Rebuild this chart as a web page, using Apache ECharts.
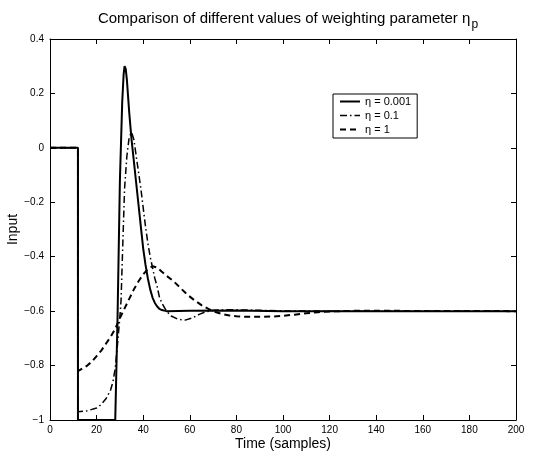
<!DOCTYPE html>
<html>
<head>
<meta charset="utf-8">
<script src="https://cdn.jsdelivr.net/npm/echarts@6/dist/echarts.min.js"></script>
<style>
  html, body { margin: 0; padding: 0; background: #fff; }
  #chart { width: 543px; height: 452px; }
</style>
</head>
<body>
<div id="chart"></div>
<script>
// eta = 0.001 (solid)
const tSolid = [0, 12, 12, 28, 29, 30, 31, 31.6, 32, 32.5, 33, 34, 35, 36, 37, 38, 39, 40, 41, 42, 43, 44, 45, 46, 47, 48, 50, 60, 80, 100, 200]
const ySolid = [0, 0, -1, -1, -0.62, -0.12, 0.17, 0.27, 0.30, 0.29, 0.25, 0.13, 0.03, -0.05, -0.13, -0.21, -0.29, -0.37, -0.43, -0.48, -0.52, -0.55, -0.57, -0.583, -0.592, -0.596, -0.6, -0.599, -0.598, -0.6, -0.6]

// eta = 0.1 (dash-dot)
const tDashDot = [0, 12, 12, 16, 20, 22, 24, 26, 27, 28, 29, 30, 30.5, 31, 32, 33, 34, 35, 35.5, 36, 37, 38, 39, 40, 41, 42, 43, 44, 45, 46, 47, 48, 49, 50, 52, 55, 58, 61, 64, 67, 70, 75, 80, 90, 100, 120, 200]
const yDashDot = [0, 0, -0.97, -0.966, -0.956, -0.943, -0.922, -0.89, -0.86, -0.81, -0.72, -0.62, -0.56, -0.42, -0.15, -0.03, 0.04, 0.057, 0.05, 0.03, -0.03, -0.09, -0.15, -0.22, -0.29, -0.35, -0.4, -0.44, -0.48, -0.51, -0.55, -0.57, -0.585, -0.6, -0.618, -0.63, -0.633, -0.625, -0.612, -0.602, -0.597, -0.595, -0.595, -0.597, -0.599, -0.6, -0.6]

// eta = 1 (dashed)
const tDashed = [0, 12, 12, 14, 16, 18, 20, 22, 24, 26, 28, 30, 32, 34, 36, 38, 40, 42, 44, 46, 48, 50, 53, 56, 59, 62, 65, 68, 71, 74, 77, 80, 85, 90, 95, 100, 105, 110, 115, 120, 130, 150, 200]
const yDashed = [0, 0, -0.82, -0.81, -0.8, -0.785, -0.765, -0.745, -0.72, -0.695, -0.665, -0.625, -0.59, -0.555, -0.52, -0.49, -0.465, -0.445, -0.435, -0.44, -0.455, -0.47, -0.49, -0.515, -0.54, -0.56, -0.578, -0.592, -0.603, -0.611, -0.616, -0.619, -0.621, -0.621, -0.62, -0.617, -0.613, -0.608, -0.604, -0.601, -0.599, -0.599, -0.6]

const seriesNames = ['η = 0.001', 'η = 0.1', 'η = 1']
const xTicks = { min: 0, max: 200, interval: 20 }
const yTicks = { min: -1, max: 0.4, interval: 0.2 }

const zip = (xs, ys) => xs.map((x, i) => [x, ys[i]])

const font = 'Liberation Sans, Arial, Helvetica, sans-serif'
const black = '#000'

const styles = [
    { color: black, width: 2, type: 'solid' },
    { color: black, width: 1.5, type: [7, 3, 1.5, 3] },
    { color: black, width: 2, type: [6, 4] }
]

const boxAxis = (extra) => Object.assign({
    type: 'value',
    axisLine: { show: true, onZero: false, lineStyle: { color: black, width: 1 } },
    axisTick: { show: true, inside: true, length: 5, lineStyle: { color: black } },
    splitLine: { show: false },
    axisLabel: { show: false },
}, extra)

const myChart = echarts.init(document.querySelector('#chart'), null, { renderer: 'canvas' })
myChart.setOption({
    animation: false,
    backgroundColor: '#fff',
    graphic: [{
        type: 'text',
        x: 288,
        y: 11,
        style: {
            text: '{t|Comparison of different values of weighting parameter η}{sub|p}',
            align: 'center',
            verticalAlign: 'top',
            rich: {
                t: { fontSize: 15, fontFamily: font, fill: black, verticalAlign: 'top' },
                sub: { fontSize: 12, fontFamily: font, fill: black, verticalAlign: 'top', padding: [8, 0, 0, 1] }
            }
        }
    }],
    grid: { left: 50, right: 27, top: 39, bottom: 32, outerBoundsMode: 'none', containLabel: false },
    legend: {
        orient: 'vertical',
        left: 333,
        top: 94,
        data: seriesNames.map((name, i) => ({
            name,
            itemStyle: { opacity: 0 },
            lineStyle: styles[i]
        })),
        itemWidth: 20,
        itemHeight: 11,
        itemGap: 3,
        padding: [2, 6, 3, 6],
        borderColor: black,
        borderWidth: 1,
        backgroundColor: '#fff',
        textStyle: { fontSize: 11, fontFamily: font, color: black }
    },
    xAxis: [
        boxAxis({
            position: 'bottom',
            ...xTicks,
            name: 'Time (samples)',
            nameLocation: 'middle',
            nameGap: 17,
            nameMoveOverlap: false,
            nameTextStyle: { fontSize: 14, fontFamily: font, color: black },
            axisLabel: { show: true, fontSize: 10, fontFamily: font, color: black, margin: 5 }
        }),
        boxAxis({ position: 'top', ...xTicks })
    ],
    yAxis: [
        boxAxis({
            position: 'left',
            ...yTicks,
            name: 'Input',
            nameLocation: 'middle',
            nameGap: 30,
            nameMoveOverlap: false,
            nameTextStyle: { fontSize: 14, fontFamily: font, color: black },
            axisLabel: {
                show: true, fontSize: 10, fontFamily: font, color: black, margin: 6,
                formatter: v => String(Math.round(v * 10) / 10).replace('-', '−')
            }
        }),
        boxAxis({ position: 'right', ...yTicks })
    ],
    series: [
        { data: zip(tSolid, ySolid) },
        { data: zip(tDashDot, yDashDot) },
        { data: zip(tDashed, yDashed) }
    ].map((s, i) => ({
        name: seriesNames[i],
        type: 'line',
        showSymbol: false,
        symbol: 'none',
        data: s.data,
        lineStyle: styles[i],
        itemStyle: { color: black }
    }))
})
</script>
</body>
</html>
